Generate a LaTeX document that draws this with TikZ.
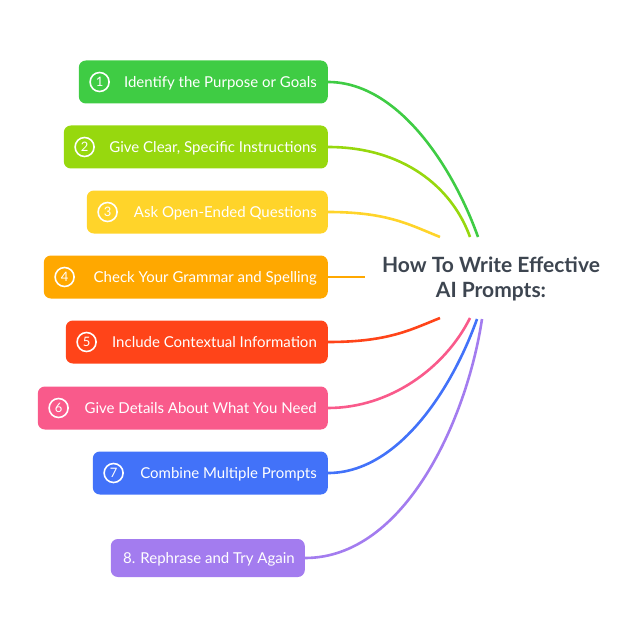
\documentclass[tikz,border=0pt]{standalone}
\usepackage{fontspec}
\setmainfont{Lato}
\usetikzlibrary{positioning}
\definecolor{c1}{HTML}{3FCC44}
\definecolor{c2}{HTML}{97D80E}
\definecolor{c3}{HTML}{FFD42A}
\definecolor{c4}{HTML}{FFA800}
\definecolor{c5}{HTML}{FF4419}
\definecolor{c6}{HTML}{F95A8B}
\definecolor{c7}{HTML}{4272F9}
\definecolor{c8}{HTML}{A37CEF}
\definecolor{titlegray}{HTML}{3D4550}
\tikzset{
  itembox/.style={fill=#1, rounded corners=7pt, minimum height=43pt, inner sep=0pt},
  itemtext/.style={text=white, font=\fontsize{15}{17}\selectfont, anchor=base east, inner sep=0pt},
  numring/.style={draw=white, line width=1.6pt, circle, minimum size=19pt, inner sep=0pt,
    text=white, font=\fontsize{13}{13}\selectfont},
  branch/.style={draw=#1, line width=2.6pt},
}

\begin{document}
\begin{tikzpicture}[x=1pt,y=-1pt]
  \useasboundingbox (0,0) rectangle (636,639);
  \def\xr{328}
  % numbered items
  \foreach \i/\y/\w/\t in {1/82/249/{Identify the Purpose or Goals},
                           2/147/264/{Give Clear, Specific Instructions},
                           3/212/241/{Ask Open-Ended Questions},
                           4/277/284/{Check Your Grammar and Spelling},
                           5/342/262/{Include Contextual Information},
                           6/408/290/{Give Details About What You Need},
                           7/473/235/{Combine Multiple Prompts}} {
    \node[itembox=c\i, minimum width=\w pt, anchor=east] (b\i) at (\xr,\y) {};
    \node[itemtext] (t\i) at ([xshift=-11pt,yshift=-5.5pt]b\i.east) {\t};
    \node[numring] (n\i) at ([xshift=21pt]b\i.west) {\i};
  }
  \node[itembox=c8, minimum width=194pt, minimum height=38pt, anchor=east] (b8) at (305,558) {};
  \node[itemtext] (t8) at ([xshift=-10pt,yshift=-5.5pt]b8.east) {8. Rephrase and Try Again};
  % centre topic
  \node[text=titlegray, align=center, font=\bfseries\fontsize{21}{25}\selectfont] (title) at (491,279)
    {How To Write Effective\\AI Prompts:};
  \coordinate (e1) at (478,237);
  \coordinate (e2) at (470,237);
  \coordinate (e3) at (440,237);
  \coordinate (e4) at (365,277);
  \coordinate (e5) at (440,318);
  \coordinate (e6) at (470,318);
  \coordinate (e7) at (477,319);
  \coordinate (e8) at (482,319);
  % branches
  \draw[branch=c1] (b1.east) .. controls +(70,0) and +(-25,-70) .. (e1);
  \draw[branch=c2] (b2.east) .. controls +(75,0) and +(-18,-50) .. (e2);
  \draw[branch=c3] (b3.east) .. controls +(60,0) and +(-30,-12) .. (e3);
  \draw[branch=c4] (b4.east) -- (e4);
  \draw[branch=c5] (b5.east) .. controls +(60,0) and +(-30,12) .. (e5);
  \draw[branch=c6] (b6.east) .. controls +(62,0) and +(-25,50) .. (e6);
  \draw[branch=c7] (b7.east) .. controls +(70,0) and +(-25,70) .. (e7);
  \draw[branch=c8] (b8.east) .. controls +(100,0) and +(-15,100) .. (e8);
\end{tikzpicture}
\end{document}
